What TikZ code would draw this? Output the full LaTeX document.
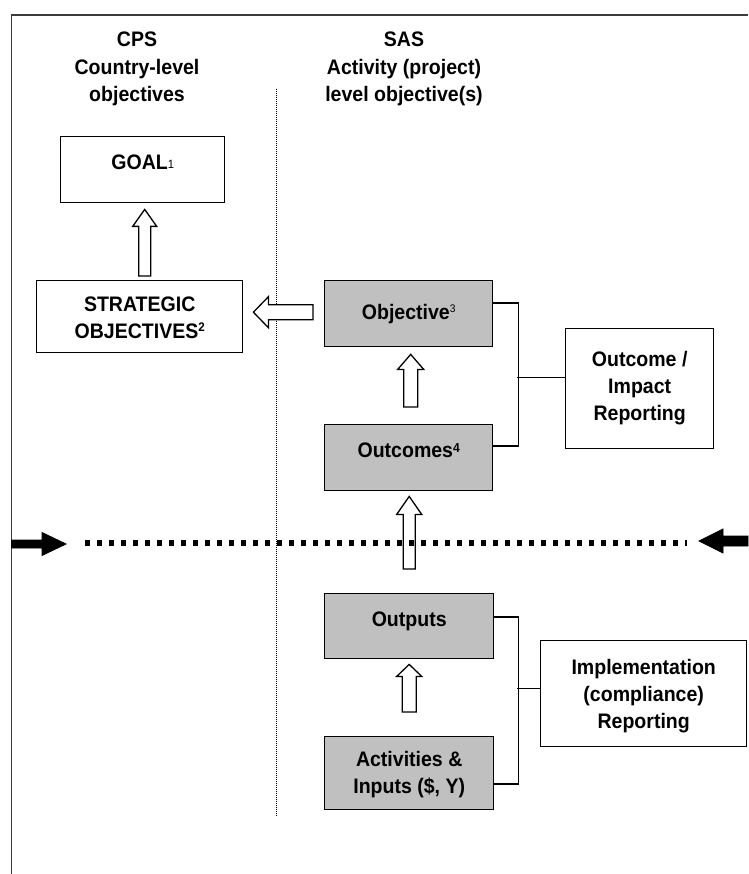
\documentclass[tikz,border=0pt]{standalone}
\usepackage{fontspec}
\setmainfont{Liberation Sans}[FakeStretch=0.93]
\usetikzlibrary{calc}
\definecolor{boxgray}{RGB}{192,192,192}
\definecolor{framegray}{RGB}{60,60,60}
\newcommand\supx[4]{\raisebox{#2pt}{\fontsize{#1}{#1}\selectfont#3#4}}
\newcommand\blockup[5]{%
  \draw[barrow] let \p1=(#1), \p2=(#2) in
    (\x1-#3pt,\y1) -- (\x1-#3pt,\y2-#5pt) -- (\x1-#4pt,\y2-#5pt) -- (\x1,\y2)
    -- (\x1+#4pt,\y2-#5pt) -- (\x1+#3pt,\y2-#5pt) -- (\x1+#3pt,\y1) -- cycle;}
\newcommand\blockleft[6][barrow]{%
  \draw[#1] let \p1=(#2), \p2=(#3) in
    (\x1,\y1-#4pt) -- (\x2+#6pt,\y1-#4pt) -- (\x2+#6pt,\y1-#5pt) -- (\x2,\y1)
    -- (\x2+#6pt,\y1+#5pt) -- (\x2+#6pt,\y1+#4pt) -- (\x1,\y1+#4pt) -- cycle;}
\newcommand\blockright[6][barrow]{%
  \draw[#1] let \p1=(#2), \p2=(#3) in
    (\x1,\y1-#4pt) -- (\x2-#6pt,\y1-#4pt) -- (\x2-#6pt,\y1-#5pt) -- (\x2,\y1)
    -- (\x2-#6pt,\y1+#5pt) -- (\x2-#6pt,\y1+#4pt) -- (\x1,\y1+#4pt) -- cycle;}
\begin{document}
\begin{tikzpicture}[x=1pt,y=-1pt,
  every node/.style={font=\fontsize{21}{27}\selectfont\bfseries},
  title/.style={anchor=base, align=center, inner sep=0pt, font=\fontsize{21}{27.5}\selectfont\bfseries},
  box/.style={draw=black, line width=1.4pt, inner sep=0pt, anchor=north west, align=center},
  gbox/.style={box, fill=boxgray},
  barrow/.style={draw=black, line width=1.3pt, fill=white, line join=miter},
  solidarrow/.style={draw=black, line width=0.8pt, fill=black, line join=miter},
  link/.style={draw=black, line width=1.2pt},
  frameline/.style={draw=framegray, line width=1.6pt},
  thinsep/.style={draw=black, line width=1pt, dash pattern=on 1pt off 1pt},
  thickdots/.style={draw=black, line width=5.5pt, dash pattern=on 5pt off 7pt}]
\useasboundingbox (0,0) rectangle (748,874);

% frame
\coordinate (frTR) at (748,15);
\coordinate (frTL) at (11.5,15);
\coordinate (frBL) at (11.5,874);
\draw[frameline] (frTR) -- (frTL) -- (frBL);

% column separator
\coordinate (sepT) at (276,89);
\coordinate (sepB) at (276,816);
\draw[thinsep] (sepT) -- (sepB);

% titles (anchor = baseline of last line)
\node[title] (cps) at (137,102) {CPS\\Country-level\\objectives};
\node[title] (sas) at (404,102) {SAS\\Activity (project)\\level objective(s)};

% boxes
\node[box, minimum width=164pt, minimum height=66pt, text height=15pt, text depth=15pt]
  (goal) at (60,136) {GOAL\supx{12}{1}{\mdseries}{1}};
\node[box, minimum width=206pt, minimum height=72pt, text height=44pt, text depth=0pt]
  (so) at (36,280) {STRATEGIC\\OBJECTIVES\supx{12.5}{7}{}{2}};
\node[gbox, minimum width=168pt, minimum height=66pt, text height=22pt, text depth=10pt]
  (objective) at (324,280) {Objective\supx{11}{7}{\mdseries}{3}};
\node[gbox, minimum width=168pt, minimum height=66pt, text height=15pt, text depth=15pt]
  (outcomes) at (324,424) {Outcomes\supx{13}{5}{}{4}};
\node[gbox, minimum width=169pt, minimum height=65pt, text height=15pt, text depth=15pt]
  (outputs) at (324,593) {Outputs};
\node[gbox, minimum width=169pt, minimum height=73pt, text height=41pt, text depth=0pt]
  (activities) at (324,736) {Activities \&\\Inputs (\$, Y)};
\node[box, minimum width=148pt, minimum height=120pt, text height=64pt, text depth=0pt]
  (impact) at (565,328) {Outcome /\\Impact\\Reporting};
\node[box, minimum width=206pt, minimum height=106pt, text height=70pt, text depth=0pt]
  (impl) at (540,640) {Implementation\\(compliance)\\Reporting};

% hollow block arrows
\blockup{$(so.north)+(5,-4)$}{$(goal.south)+(0,6)$}{6}{12}{17}
\blockup{$(outcomes.north)+(2,-17)$}{$(objective.south)+(0,7)$}{7}{13}{15}
\blockup{$(outputs.north)+(0,-24)$}{$(outcomes.south)+(0,5)$}{6}{12.5}{18}
\blockup{$(activities.north)+(0,-24)$}{$(outputs.south)+(0,5)$}{7}{12.5}{12}
\blockleft{$(objective.west)+(-11,-1.5)$}{$(so.east)+(10,0)$}{7.5}{15.5}{15}

% reporting brackets
\draw[link] ($(objective.north east)+(0,23)$) -- ++(25,0) |- ($(outcomes.north east)+(0,22)$);
\draw[link] ($(impact.west)+(0,-11)$) -- ++(-48,0);
\draw[link] ($(outputs.north east)+(0,24)$) -- ++(24,0) |- ($(activities.north east)+(0,48)$);
\draw[link] ($(impl.west)+(0,-5)$) -- ++(-23,0);

% dividing line with solid arrows
\coordinate (dotL) at (85,543);
\coordinate (dotR) at (687,543);
\draw[thickdots] (dotL) -- (dotR);
\coordinate (lTail) at (11.5,544);
\coordinate (lTip) at (66,544);
\blockright[solidarrow]{lTail}{lTip}{4}{11.5}{24}
\coordinate (rTail) at (748,541);
\coordinate (rTip) at (699,541);
\blockleft[solidarrow]{rTail}{rTip}{5}{12}{24}
\end{tikzpicture}
\end{document}
